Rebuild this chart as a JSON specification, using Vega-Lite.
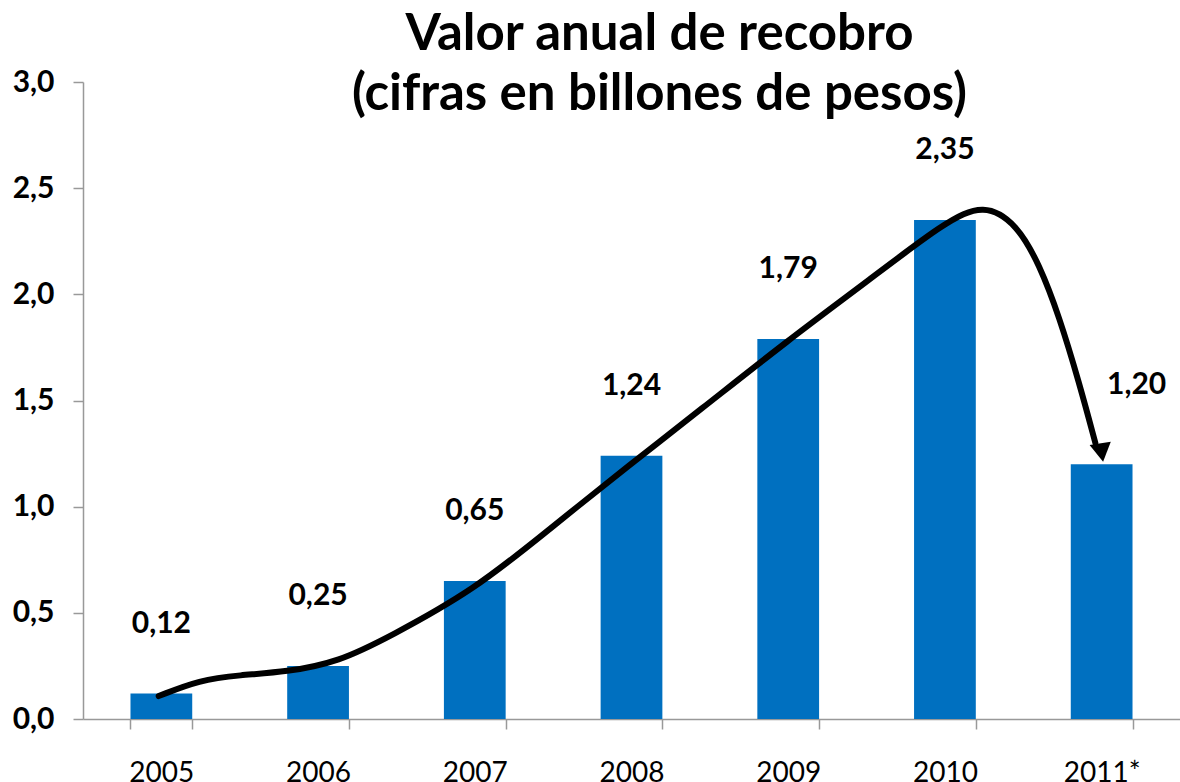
{
  "$schema": "https://vega.github.io/schema/vega-lite/v6.json",
  "width": 1097,
  "height": 637,
  "autosize": {"type": "none"},
  "padding": {"left": 83, "top": 82, "right": 0, "bottom": 63},
  "background": "white",
  "config": {"view": {"stroke": null}, "font": "Lato"},
  "title": {
    "text": ["Valor anual de recobro", "(cifras en billones de pesos)"],
    "font": "Lato",
    "fontSize": 51,
    "fontWeight": "bold",
    "color": "black",
    "anchor": "middle",
    "frame": "group",
    "dx": 28,
    "lineHeight": 60,
    "baseline": "bottom",
    "offset": -105
  },
  "datasets": {
    "bars": [
      {"year": "2005", "value": 0.12, "label": "0,12"},
      {"year": "2006", "value": 0.25, "label": "0,25"},
      {"year": "2007", "value": 0.65, "label": "0,65"},
      {"year": "2008", "value": 1.24, "label": "1,24"},
      {"year": "2009", "value": 1.79, "label": "1,79"},
      {"year": "2010", "value": 2.35, "label": "2,35"},
      {"year": "2011*", "value": 1.20, "label": "1,20"}
    ],
    "curve": [
      {"t": 0.483, "v": 0.108},
      {"t": 0.744, "v": 0.184},
      {"t": 0.998, "v": 0.207},
      {"t": 1.297, "v": 0.221},
      {"t": 1.634, "v": 0.270},
      {"t": 1.952, "v": 0.386},
      {"t": 2.498, "v": 0.608},
      {"t": 2.969, "v": 0.89},
      {"t": 3.503, "v": 1.206},
      {"t": 3.922, "v": 1.446},
      {"t": 4.501, "v": 1.785},
      {"t": 5.003, "v": 2.06},
      {"t": 5.499, "v": 2.34},
      {"t": 5.75, "v": 2.43},
      {"t": 5.96, "v": 2.33},
      {"t": 6.103, "v": 2.14},
      {"t": 6.23, "v": 1.894},
      {"t": 6.357, "v": 1.583},
      {"t": 6.46, "v": 1.30}
    ],
    "arrow": [
      {"t": 6.5, "v": 1.255}
    ]
  },
  "resolve": {"scale": {"x": "independent"}},
  "layer": [
    {
      "data": {"name": "bars"},
      "encoding": {
        "x": {
          "field": "year",
          "type": "nominal",
          "sort": null,
          "scale": {"paddingInner": 0.606, "paddingOuter": 0.303},
          "axis": {
            "title": null,
            "labelAngle": 0,
            "labelFont": "Lato",
            "labelFontSize": 28,
            "labelFontWeight": "normal",
            "labelColor": "black",
            "labelPadding": 30,
            "domainColor": "#999999",
            "domainWidth": 1.5,
            "tickColor": "#999999",
            "tickWidth": 1.5,
            "tickSize": 10,
            "tickBand": "extent",
            "grid": false
          }
        },
        "y": {
          "field": "value",
          "type": "quantitative",
          "scale": {"domain": [0, 3], "nice": false},
          "axis": {
            "title": null,
            "values": [0, 0.5, 1, 1.5, 2, 2.5, 3],
            "labelExpr": "replace(format(datum.value, '.1f'), '.', ',')",
            "labelFont": "Lato",
            "labelFontSize": 30,
            "labelFontWeight": "bold",
            "labelColor": "black",
            "labelPadding": 19,
            "domainColor": "#999999",
            "domainWidth": 1.5,
            "tickColor": "#999999",
            "tickWidth": 1.5,
            "tickSize": 10,
            "grid": false
          }
        }
      },
      "layer": [
        {
          "mark": {"type": "bar", "color": "#0070C0"}
        },
        {
          "transform": [{"filter": "datum.year != '2011*'"}],
          "mark": {"type": "text", "font": "Lato", "fontSize": 30, "fontWeight": "bold", "color": "black", "baseline": "middle", "dy": -70},
          "encoding": {"text": {"field": "label"}}
        },
        {
          "transform": [{"filter": "datum.year == '2011*'"}],
          "mark": {"type": "text", "font": "Lato", "fontSize": 30, "fontWeight": "bold", "color": "black", "baseline": "middle", "dy": -79, "dx": 35},
          "encoding": {"text": {"field": "label"}}
        }
      ]
    },
    {
      "data": {"name": "curve"},
      "mark": {"type": "line", "color": "black", "strokeWidth": 6, "interpolate": "basis", "strokeCap": "round"},
      "encoding": {
        "x": {"field": "t", "type": "quantitative", "scale": {"domain": [0, 7], "nice": false, "zero": false}, "axis": null},
        "y": {"field": "v", "type": "quantitative"}
      }
    },
    {
      "data": {"name": "arrow"},
      "mark": {"type": "point", "shape": "triangle-down", "filled": true, "color": "black", "opacity": 1, "size": 460, "angle": -9},
      "encoding": {
        "x": {"field": "t", "type": "quantitative", "scale": {"domain": [0, 7], "nice": false, "zero": false}, "axis": null},
        "y": {"field": "v", "type": "quantitative"}
      }
    }
  ]
}
